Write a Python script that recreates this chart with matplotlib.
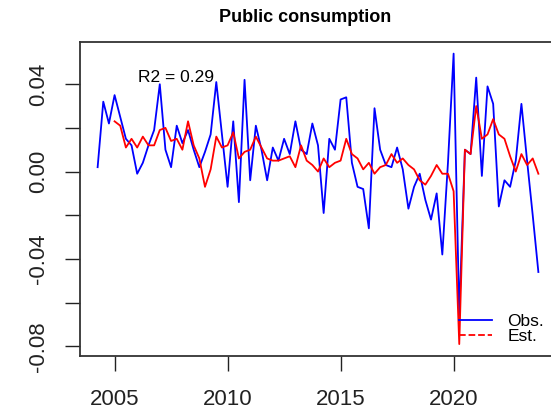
import numpy as np
import matplotlib.pyplot as plt
from matplotlib.lines import Line2D

plt.rcParams['font.family'] = ['Liberation Sans', 'DejaVu Sans']

# 四半期データ（2004Q2〜2023Q4）
start_year = 2004.25
obs = [0.002, 0.032, 0.022, 0.035, 0.025, 0.015, 0.012, -0.001, 0.004, 0.012,
       0.019, 0.040, 0.010, 0.002, 0.021, 0.013, 0.019, 0.010, 0.002, 0.009,
       0.017, 0.041, 0.017, -0.007, 0.023, -0.014, 0.042, -0.004, 0.021, 0.010,
       -0.004, 0.011, 0.005, 0.015, 0.008, 0.023, 0.010, 0.008, 0.022, 0.012,
       -0.019, 0.015, 0.010, 0.033, 0.034, 0.004, -0.007, -0.008, -0.026, 0.029,
       0.010, 0.003, 0.002, 0.011, 0.001, -0.017, -0.007, -0.001, -0.013, -0.022,
       -0.010, -0.038, 0.004, 0.054, -0.066, 0.010, 0.008, 0.043, -0.002, 0.039,
       0.031, -0.016, -0.004, -0.007, 0.005, 0.031, 0.005, -0.020, -0.046]

# 推定値（2005Q1から）
est_offset = 3
est = [0.023, 0.021, 0.011, 0.015, 0.011, 0.016, 0.012, 0.012, 0.019, 0.020,
       0.014, 0.015, 0.010, 0.023, 0.012, 0.006, -0.007, 0.001, 0.016, 0.011,
       0.012, 0.018, 0.006, 0.009, 0.010, 0.016, 0.011, 0.006, 0.005, 0.005,
       0.006, 0.007, 0.002, 0.012, 0.005, 0.003, 0.000, 0.006, 0.002, 0.004,
       0.005, 0.015, 0.008, 0.006, 0.001, 0.004, -0.001, 0.002, 0.003, 0.008,
       0.004, 0.006, 0.003, 0.001, -0.004, -0.006, -0.002, 0.003, -0.001, -0.001,
       -0.009, -0.079, 0.010, 0.008, 0.030, 0.015, 0.017, 0.024, 0.017, 0.015,
       0.007, 0.000, 0.008, 0.003, 0.006, -0.001]

r2_label = "R2 = 0.29"
title = "Public consumption"
xticks = [2005, 2010, 2015, 2020]
yticks = [0.04, 0.02, 0.00, -0.02, -0.04, -0.06, -0.08]
ylabels = ["0.04", "", "0.00", "", "-0.04", "", "-0.08"]

t = start_year + 0.25 * np.arange(len(obs))

fig = plt.figure(figsize=(5.51, 4.13), dpi=100)
ax = fig.add_axes([80/551, 1 - 355.7/413, 476/551, (355.7 - 42)/413])

ax.plot(t, obs, color='blue', lw=1.3)
ax.plot(t[est_offset:], est, color='red', lw=1.3)
ax.margins(x=0.04, y=0.04)

ax.set_xticks(xticks)
ax.set_yticks(yticks)
ax.set_yticklabels(ylabels, rotation=90, va='center')
ax.tick_params(axis='both', direction='out', length=11, width=1, labelsize=16,
               colors='#222222')
ax.tick_params(axis='x', pad=13)
ax.tick_params(axis='y', pad=11)
for s in ax.spines.values():
    s.set_color('#333333')
    s.set_linewidth(1.3)

ax.text(2007.7, 0.043, r2_label, ha='center', va='center', fontsize=12.5)

handles = [Line2D([], [], color='blue', lw=1.3),
           Line2D([], [], color='red', lw=1.3, ls='--')]
ax.legend(handles, ["Obs.", "Est."], loc='lower left',
          bbox_to_anchor=((459 - 80)/476, (413 - 344 - 57.3)/313.7),
          frameon=False, fontsize=12.5, handlelength=1.9, handletextpad=0.9,
          labelspacing=0.0, borderpad=0, borderaxespad=0)

fig.text(305/551, 1 - 17/413, title, ha='center', va='center',
         fontsize=13, fontweight='bold')

fig.savefig('out.png', dpi=100)
